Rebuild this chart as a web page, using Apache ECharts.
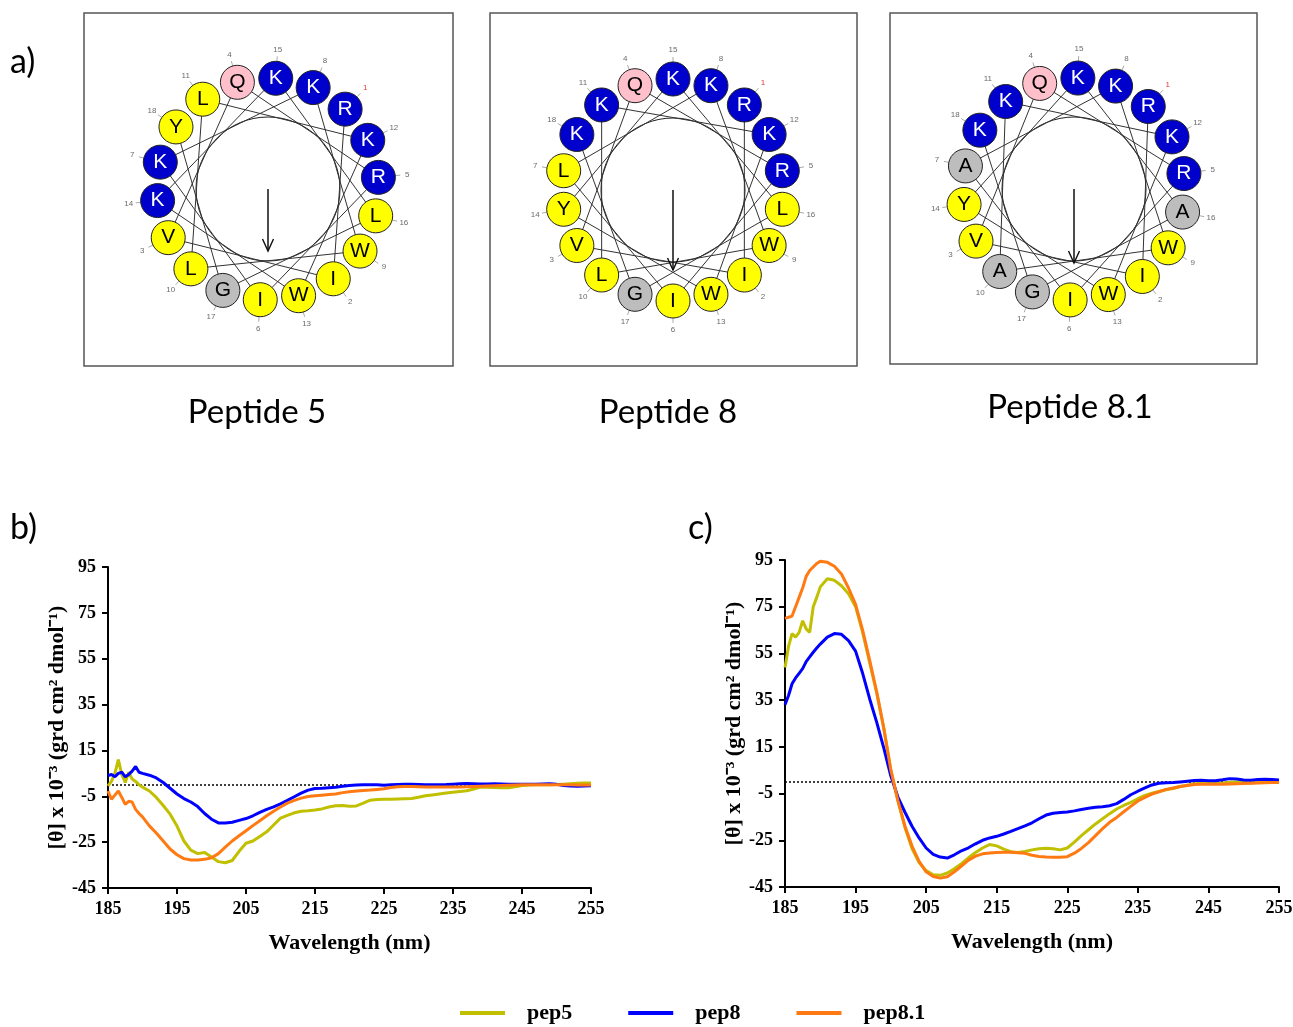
<!DOCTYPE html>
<html><head><meta charset="utf-8">
<script src="https://cdn.jsdelivr.net/npm/echarts@6/dist/echarts.min.js"></script>
<style>html,body{margin:0;padding:0;background:#fff}#c{width:1293px;height:1027px}</style>
</head><body><div id="c"></div><script>
// ---------- helical wheel data ----------
const seqPep5  = ['R','I','V','Q','R','I','K','K','W','L','L','K','W','K','K','L','G','Y'];
const seqPep8  = ['R','I','V','Q','R','I','L','K','W','L','K','K','W','Y','K','L','G','K'];
const seqPep81 = ['R','I','V','Q','R','I','A','K','W','A','K','K','W','Y','K','A','G','K'];
const peptideNames = ['Peptide 5','Peptide 8','Peptide 8.1'];
const momentLengths = [62, 80, 74];          // hydrophobic moment arrows
const residueClass = {K:'basic',R:'basic',Q:'polar',G:'small',A:'small',I:'apolar',V:'apolar',L:'apolar',W:'apolar',Y:'apolar'};

// ---------- CD spectra data ----------
const wavelengths = [185,185.5,186,186.5,187,187.5,188,188.5,189,189.5,190,
 191,192,193,194,195,196,197,198,199,200,
 201,202,203,204,205,206,207,208,209,210,
 211,212,213,214,215,216,217,218,219,220,
 221,222,223,224,225,226,227,228,229,230,
 231,232,233,234,235,236,237,238,239,240,
 241,242,243,244,245,246,247,248,249,250,
 251,252,253,254,255];
const xTicks = [185,195,205,215,225,235,245,255];
const yTicks = [-45,-25,-5,15,35,55,75,95];
const seriesNames = ['pep5','pep8','pep8.1'];

// panel b
const bPep5 = [-0.5,1.5,5,11,4.5,1,5.5,2.5,1.5,0,-1,
 -2.7,-5.5,-9,-12.8,-18,-24.5,-28.5,-30,-29.5,-31.5,
 -33.5,-34,-33,-29,-25.5,-24.5,-22.5,-20.5,-17.5,-14.5,
 -13.3,-12.2,-11.5,-11.3,-11,-10.5,-9.7,-9.1,-9,-9.3,
 -9.2,-8,-6.7,-6.4,-6.3,-6.3,-6.2,-6.1,-6,-5.4,
 -4.8,-4.4,-4,-3.6,-3.2,-2.9,-2.6,-1.8,-1,-1.1,
 -1.2,-1.3,-1.3,-0.8,-0.3,-0.1,0,0,0,0.1,
 0.3,0.5,0.7,0.8,0.8];
const bPep8 = [4,4.5,3.5,5,5.5,3.5,4.5,6,8,5.5,5,
 4.2,3,1,-1.5,-4,-6,-7.5,-9.5,-12.5,-15,
 -16.6,-16.6,-16.3,-15.5,-14.7,-13.5,-12,-10.7,-9.6,-8.3,
 -6.8,-5.2,-3.6,-2.3,-1.6,-1.5,-1.3,-1.1,-0.6,-0.3,
 -0.1,0,0,0,-0.2,0,0.1,0.2,0.2,0.1,
 0,0,0,0.1,0.3,0.5,0.6,0.5,0.4,0.4,
 0.5,0.4,0.2,0.2,0.3,0.3,0.3,0.4,0.5,0.2,
 -0.3,-0.5,-0.6,-0.5,-0.4];
const bPep81 = [-2.7,-6.3,-4.5,-2.7,-5.5,-8.5,-7.2,-7.5,-10.7,-12.5,-14,
 -17.9,-21,-24.5,-28,-30.5,-32.2,-32.8,-32.8,-32.5,-31.8,
 -30,-27.2,-24.5,-22.2,-20,-17.8,-15.7,-13.5,-11.5,-9.7,
 -8,-6.8,-5.8,-5.1,-4.8,-4.5,-4.2,-4,-3.4,-3,
 -2.7,-2.5,-2.3,-2,-1.7,-1.2,-0.8,-0.7,-0.7,-0.8,
 -0.9,-1,-1,-1,-1,-0.9,-0.8,-0.7,-0.6,-0.5,
 -0.4,-0.3,-0.2,-0.1,0,0,0,0,0,0,
 0,0,-0.1,-0.1,-0.1];
// panel c
const cPep5 = [49,58,63.5,62,64,69,65.5,64,75,79,83.5,
 87,86.3,84,80.5,75,64,51,38,23,5,
 -8,-19.5,-28.5,-34.5,-38,-39.8,-40,-39,-37.2,-35,
 -32.5,-30.2,-28.3,-26.8,-27.4,-28.8,-29.9,-30.2,-29.8,-29.1,
 -28.6,-28.4,-28.6,-29.1,-28.3,-25.8,-23,-20.5,-18,-15.8,
 -13.6,-11.6,-10.1,-8.8,-7.2,-5.8,-4.8,-4.1,-3.4,-2.8,
 -2,-1.4,-0.8,-0.6,-0.7,-0.7,-0.5,-0.2,0,-0.3,
 -0.5,-0.3,0,0.4,0.6];
const cPep8 = [33,37,42,44.5,46.5,48.5,51.5,53.5,55.5,57.3,59,
 62,63.5,63.2,60.5,56,46.5,35.5,25.5,14.5,2.5,
 -6.5,-13,-19,-24,-28.3,-31,-32.2,-32.6,-31.2,-29.5,
 -28.2,-26.5,-25,-24,-23.3,-22.3,-21.2,-20,-18.8,-17.5,
 -15.8,-14.2,-13.4,-13.1,-12.9,-12.4,-11.8,-11.3,-10.9,-10.6,
 -10.2,-9.3,-7.5,-5.5,-4,-2.6,-1.3,-0.6,-0.4,-0.3,
 0,0.3,0.6,0.7,0.5,0.5,0.9,1.4,1.2,0.8,
 0.7,1,1.1,1,0.8];
const cPep81 = [70,70.5,71,75,79,83,88,90.5,92,93.5,94.5,
 94,92.3,89,83,76,65,52,38.5,23,5,
 -8,-19,-27.5,-34,-38.5,-40.5,-41.2,-40.6,-38.5,-36,
 -33.5,-31.8,-30.8,-30.4,-30.2,-30.1,-30.1,-30.3,-30.6,-31.4,
 -31.9,-32.2,-32.3,-32.3,-32,-30.5,-28.5,-26,-23,-20,
 -17.3,-15.2,-12.8,-10.5,-8.2,-6.6,-5.2,-4.2,-3.2,-2.6,
 -2,-1.5,-1.1,-1,-1,-1,-1,-0.9,-0.8,-0.7,
 -0.6,-0.5,-0.4,-0.3,-0.3];

// ---------- styles / layout ----------
const classFill = {basic:'#0000cc', polar:'#ffc0cb', small:'#bdbdbd', apolar:'#ffff00'};
const lineColors = ['#c0bf00','#0000ff','#ff7a12'];
const SERIF = "'Liberation Serif','Times New Roman',serif";
const SANS = "'Liberation Sans',Arial,sans-serif";
const OUTER = 150, RING_R = 111, NUM_R = 140, INNER_R = 72;
const wheelLayout = [
  {cx:268, cy:189, rot:44},
  {cx:673, cy:190, rot:40},
  {cx:1074, cy:189, rot:42}
];
const wheelSeqs = [seqPep5, seqPep8, seqPep81];
function angleOf(n, rot){ return ((rot + (n-1)*100) % 360 + 360) % 360; }

const polars = [], angleAxes = [], radiusAxes = [], series = [];
wheelLayout.forEach((w, wi) => {
  const seq = wheelSeqs[wi];
  const oi = polars.length;
  polars.push({center:[w.cx, w.cy], radius: OUTER});
  angleAxes.push({polarIndex: oi, type:'value', min:0, max:360, startAngle:90, clockwise:true, show:false});
  radiusAxes.push({polarIndex: oi, type:'value', min:0, max:OUTER, show:false});
  const ii = polars.length;
  polars.push({center:[w.cx, w.cy], radius: INNER_R});
  angleAxes.push({polarIndex: ii, type:'value', min:0, max:360, startAngle:90, clockwise:true,
    axisLine:{show:true, lineStyle:{color:'#222', width:1}}, axisTick:{show:false}, axisLabel:{show:false}, splitLine:{show:false}, splitArea:{show:false}});
  radiusAxes.push({polarIndex: ii, type:'value', min:0, max:1, show:false});

  // helix connections
  series.push({type:'line', coordinateSystem:'polar', polarIndex: oi, silent:true, z:2,
    symbol:'none', showSymbol:false, lineStyle:{color:'#333', width:1},
    data: seq.map((aa, i) => [RING_R, angleOf(i+1, w.rot)])});
  // tick marks from residue to number
  seq.forEach((aa, i) => {
    series.push({type:'line', coordinateSystem:'polar', polarIndex: oi, silent:true, z:2,
      symbol:'none', showSymbol:false, lineStyle:{color:'#aaa', width:1},
      data:[[RING_R + 17, angleOf(i+1, w.rot)], [NUM_R - 7, angleOf(i+1, w.rot)]]});
  });
  // residues
  series.push({type:'scatter', coordinateSystem:'polar', polarIndex: oi, silent:true, z:4,
    symbol:'circle', symbolSize:34,
    data: seq.map((aa, i) => {
      const cls = residueClass[aa];
      return {name: aa, value:[RING_R, angleOf(i+1, w.rot)],
        itemStyle:{color: classFill[cls], borderColor:'#222', borderWidth:1, opacity:1},
        label:{color: cls === 'basic' ? '#fff' : '#000'}};
    }),
    itemStyle:{opacity:1},
    label:{show:true, position:'inside', formatter:'{b}', fontFamily:SANS, fontSize:21}});
  // residue numbers
  series.push({type:'scatter', coordinateSystem:'polar', polarIndex: oi, silent:true, z:4,
    symbol:'circle', symbolSize:1, itemStyle:{color:'rgba(0,0,0,0)'},
    data: seq.map((aa, i) => ({name: String(i+1), value:[NUM_R, angleOf(i+1, w.rot)],
      label:{color: i === 0 ? '#e00000' : '#444'}})),
    label:{show:true, position:'inside', formatter:'{b}', fontFamily:SANS, fontSize:8}});
  // moment arrow
  series.push({type:'line', coordinateSystem:'polar', polarIndex: oi, silent:true, z:3,
    symbol:'path://M0,0L6,10L12,0', symbolSize:[11,12], symbolOffset:[0,'-50%'],
    itemStyle:{color:'none', borderColor:'#111', borderWidth:1.5},
    lineStyle:{color:'#111', width:1.5},
    data:[{value:[0,180], symbol:'none'}, {value:[momentLengths[wi],180]}]});
});

// CD spectra series
const panelData = [[bPep5,bPep8,bPep81],[cPep5,cPep8,cPep81]];
panelData.forEach((arrs, gi) => {
  arrs.forEach((vals, si) => {
    const s = {type:'line', name: seriesNames[si], xAxisIndex: gi, yAxisIndex: gi, z:5,
      symbol:'none', showSymbol:false, lineStyle:{color: lineColors[si], width:3},
      itemStyle:{color: lineColors[si]},
      data: wavelengths.map((wl, k) => [wl, vals[k]])};
    if (si === 0) {
      s.markLine = {silent:true, symbol:'none', label:{show:false}, z:3,
        lineStyle:{type:[2,2], color:'#000', width:1.5}, data:[{yAxis:0}]};
    }
    series.push(s);
  });
});

function xAx(i){
  return {gridIndex:i, type:'value', min:xTicks[0], max:xTicks[xTicks.length-1], interval:xTicks[1]-xTicks[0],
    splitLine:{show:false},
    axisLine:{onZero:false, lineStyle:{color:'#000', width:2}},
    axisTick:{length:6, lineStyle:{color:'#000', width:2}},
    axisLabel:{margin:12, color:'#000', fontFamily:SERIF, fontWeight:'bold', fontSize:18},
    name:'Wavelength (nm)', nameLocation:'middle', nameGap:44,
    nameTextStyle:{color:'#000', fontFamily:SERIF, fontWeight:'bold', fontSize:22}};
}
function yAx(i){
  return {gridIndex:i, type:'value', min:yTicks[0], max:yTicks[yTicks.length-1], interval:yTicks[1]-yTicks[0],
    splitLine:{show:false},
    axisLine:{onZero:false, lineStyle:{color:'#000', width:2}},
    axisTick:{length:6, lineStyle:{color:'#000', width:2}},
    axisLabel:{margin:12, color:'#000', fontFamily:SERIF, fontWeight:'bold', fontSize:18},
    name:'[θ] x 10⁻³ (grd cm² dmol⁻¹)', nameLocation:'middle', nameGap:38,
    nameTextStyle:{color:'#000', fontFamily:SERIF, fontWeight:'bold', fontSize:22}};
}

const boxStyle = {fill:'none', stroke:'#555', lineWidth:1.5};
const labelFont = "33px Lato, 'Open Sans', sans-serif";
const panelFont = "34px Lato, sans-serif";
const option = {
  animation:false,
  backgroundColor:'#fff',
  graphic:[
    {type:'rect', shape:{x:84, y:13, width:369, height:353}, style:boxStyle, z:0},
    {type:'rect', shape:{x:490, y:13, width:367, height:353}, style:boxStyle, z:0},
    {type:'rect', shape:{x:890, y:13, width:367, height:351}, style:boxStyle, z:0},
    {type:'text', x:10, y:62, style:{text:'a)', font:panelFont, fill:'#000', textVerticalAlign:'middle'}},
    {type:'text', x:10, y:528, style:{text:'b)', font:panelFont, fill:'#000', textVerticalAlign:'middle'}},
    {type:'text', x:688, y:528, style:{text:'c)', font:panelFont, fill:'#000', textVerticalAlign:'middle'}},
    {type:'text', x:257, y:412, style:{text:peptideNames[0], font:labelFont, fill:'#000', textAlign:'center', textVerticalAlign:'middle'}},
    {type:'text', x:668, y:412, style:{text:peptideNames[1], font:labelFont, fill:'#000', textAlign:'center', textVerticalAlign:'middle'}},
    {type:'text', x:1070, y:407, style:{text:peptideNames[2], font:labelFont, fill:'#000', textAlign:'center', textVerticalAlign:'middle'}}
  ],
  polar: polars, angleAxis: angleAxes, radiusAxis: radiusAxes,
  grid:[
    {left:108, top:567, width:483, height:321, outerBoundsMode:'none', containLabel:false},
    {left:785, top:560, width:494, height:327, outerBoundsMode:'none', containLabel:false}
  ],
  xAxis:[xAx(0), xAx(1)],
  yAxis:[yAx(0), yAx(1)],
  legend:{data:seriesNames, left:460, top:1002, orient:'horizontal', padding:0,
    icon:'path://M0,0H45V4H0ZM62,4', itemWidth:62, itemHeight:4, itemGap:56,
    textStyle:{color:'#000', fontFamily:SERIF, fontWeight:'bold', fontSize:22}},
  series
};
const chart = echarts.init(document.getElementById('c'), null, {renderer:'canvas'});
chart.setOption(option);
</script></body></html>
